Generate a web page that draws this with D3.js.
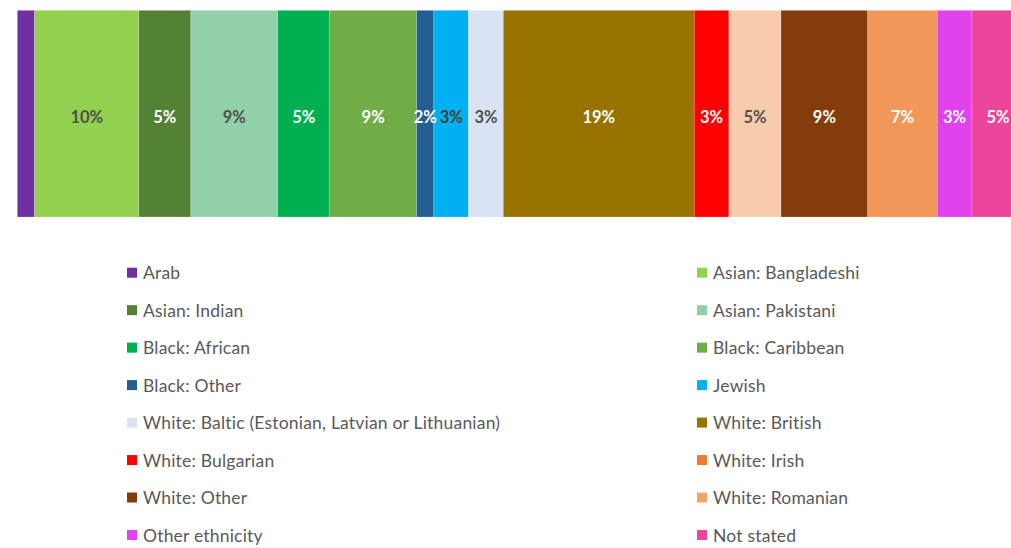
<!DOCTYPE html>
<html>
<head>
<meta charset="utf-8">
<script src="https://cdn.jsdelivr.net/npm/d3@7"></script>
<style>
  html, body { margin: 0; padding: 0; background: #fff; overflow: hidden; }
  svg { display: block; }
</style>
</head>
<body>
<svg id="chart" width="1011" height="548"></svg>
<script>
// Respondents by ethnicity (counts)
const categories = [
  "Arab", "Asian: Bangladeshi", "Asian: Indian", "Asian: Pakistani",
  "Black: African", "Black: Caribbean", "Black: Other", "Jewish",
  "White: Baltic (Estonian, Latvian or Lithuanian)", "White: British",
  "White: Bulgarian", "White: Irish", "White: Other", "White: Romanian",
  "Other ethnicity", "Not stated"
];
const counts = [1, 6, 3, 5, 3, 5, 1, 2, 2, 11, 2, 3, 5, 4, 2, 3];
// Segments drawn without a data label
const unlabeled = ["Arab"];

// Segment fills, legend swatch fills and label ink
const barColors = [
  "#7030A0", "#92D050", "#548235", "#91D0A9", "#00B050", "#70AD47",
  "#255E91", "#00B0F0", "#DAE3F3", "#997300", "#FF0000", "#F8CBAD",
  "#843C0C", "#F1975A", "#E043EE", "#EC459C"
];
const legendColors = [
  "#7030A0", "#92D050", "#548235", "#91D0A9", "#00B050", "#70AD47",
  "#255E91", "#00B0F0", "#DAE3F3", "#997300", "#FF0000", "#ED7D31",
  "#843C0C", "#F4A46A", "#E043EE", "#EC459C"
];
const labelInk = [
  "#fff", "#505050", "#fff", "#505050", "#fff", "#fff", "#fff", "#404040",
  "#505050", "#fff", "#fff", "#505050", "#fff", "#fff", "#fff", "#fff"
];

const total = d3.sum(counts);
const rows = categories.map((c, i) => ({
  name: c, value: counts[i], i,
  start: d3.sum(counts.slice(0, i)),
  pct: counts[i] / total
}));

const svg = d3.select("#chart");

// Plot area spans past the right edge of the window
const x = d3.scaleLinear().domain([0, total]).range([17.3, 1024]);
const y = d3.scaleBand().domain(["all"]).range([10.3, 217]).padding(0);

const bar = svg.append("g");
bar.selectAll("rect")
  .data(rows)
  .join("rect")
  .attr("x", d => x(d.start))
  .attr("y", y("all"))
  .attr("width", d => x(d.start + d.value) - x(d.start))
  .attr("height", y.bandwidth())
  .attr("fill", d => barColors[d.i])
  .attr("stroke", "rgba(255,255,255,0.35)")
  .attr("stroke-width", 0.6);

const pctFmt = d3.format(".0%");
bar.selectAll("text")
  .data(rows.filter(d => !unlabeled.includes(d.name)))
  .join("text")
  .attr("x", d => x(d.start + d.value / 2))
  .attr("y", y("all") + y.bandwidth() / 2 + 3)
  .attr("text-anchor", "middle")
  .attr("dominant-baseline", "central")
  .attr("font-family", "Lato, 'Open Sans', sans-serif")
  .attr("font-weight", "bold")
  .attr("font-size", 16.5)
  .attr("fill", d => labelInk[d.i])
  .text(d => pctFmt(d.pct));

// Legend: two columns, filled row by row
const legend = svg.append("g");
const colX = d3.scalePoint().domain([0, 1]).range([127, 697]);
const rowY = d3.scaleLinear().domain([0, 7]).range([272.7, 535]);

const items = legend.selectAll("g")
  .data(rows)
  .join("g")
  .attr("transform", d => `translate(${colX(d.i % 2)},${rowY(Math.floor(d.i / 2))})`);

items.append("rect")
  .attr("x", 0).attr("y", -5)
  .attr("width", 10).attr("height", 10)
  .attr("fill", d => legendColors[d.i]);

items.append("text")
  .attr("x", 16)
  .attr("y", 0)
  .attr("dominant-baseline", "central")
  .attr("font-family", "Lato, 'Open Sans', sans-serif")
  .attr("font-size", 17.5)
  .attr("letter-spacing", 0.2)
  .attr("fill", "#595959")
  .text(d => d.name);
</script>
</body>
</html>
